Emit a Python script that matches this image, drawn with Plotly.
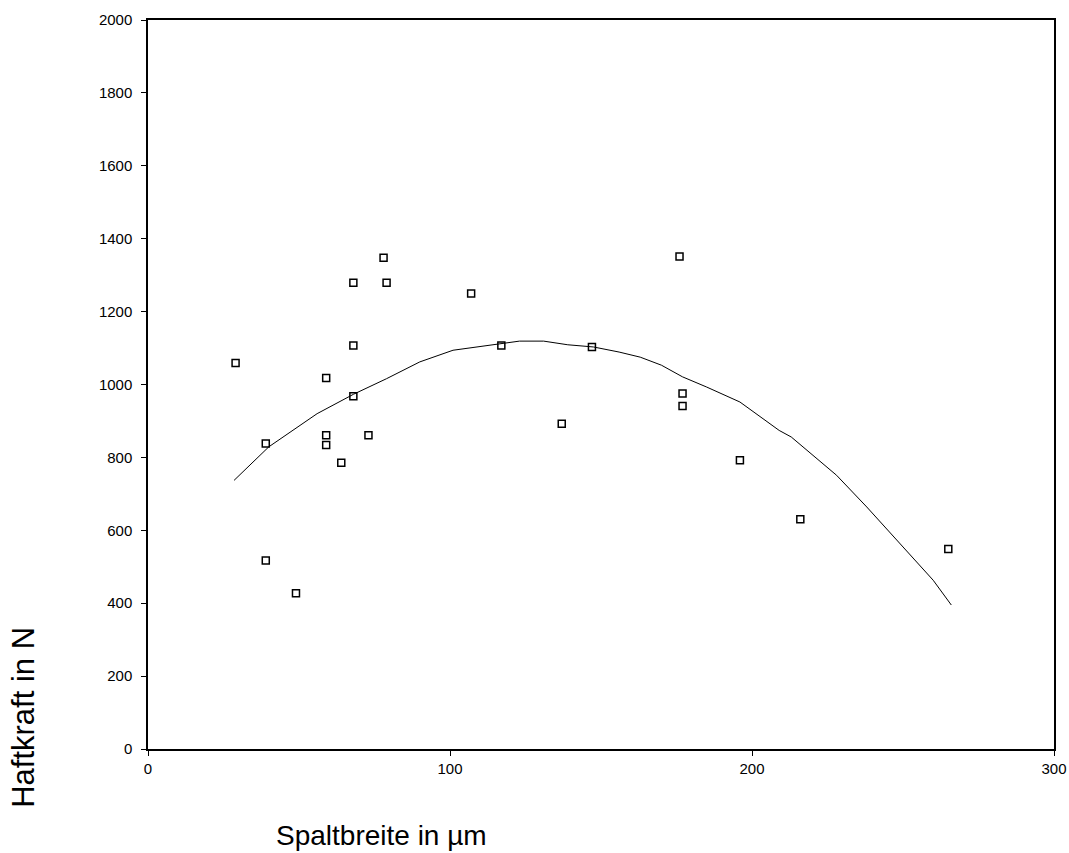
import plotly.graph_objects as go

# Measured data points (Spaltbreite in µm, Haftkraft in N)
spalt = [29, 39, 39, 49, 59, 59, 59, 64, 68, 68, 68, 73, 78, 79,
         107, 117, 137, 147, 176, 177, 177, 196, 216, 265]
haft = [1059, 838, 517, 427, 1018, 861, 834, 785, 1107, 968, 1279, 861, 1348, 1279,
        1250, 1107, 892, 1103, 1351, 975, 941, 792, 630, 549]

# Trend curve
curve_x = [28.5, 40, 56, 68, 79, 90, 101, 112, 123, 131, 139, 147.5, 156, 163,
           170, 177, 185, 196, 209, 213, 228, 238, 249, 260, 266]
curve_y = [737, 829, 920, 973, 1016, 1062, 1094, 1107, 1119, 1119, 1109, 1103, 1089, 1075,
           1053, 1021, 993, 952, 874, 856, 751, 664, 564, 463, 395]

x_ticks = [0, 100, 200, 300]
y_ticks = list(range(0, 2001, 200))

fig = go.Figure()
fig.add_trace(go.Scatter(x=curve_x, y=curve_y, mode="lines",
                         line=dict(color="black", width=1), showlegend=False))
fig.add_trace(go.Scatter(x=spalt, y=haft, mode="markers",
                         marker=dict(symbol="square-open", size=7, color="black",
                                     line=dict(width=1.5, color="black")),
                         showlegend=False))

axis_common = dict(showline=True, linecolor="black", linewidth=1.5, mirror=True,
                   ticks="outside", ticklen=5, tickcolor="black", showgrid=False,
                   zeroline=False, automargin=False,
                   tickfont=dict(family="Liberation Sans, Arial", size=15, color="black"))

fig.update_xaxes(range=[0, 300], tickvals=x_ticks, ticklabeloverflow="allow", **axis_common)
fig.update_yaxes(range=[0, 2000], tickvals=y_ticks, ticklabelstandoff=6, **axis_common)

fig.update_layout(
    width=1069, height=853,
    margin=dict(l=148, r=15, t=20, b=104, autoexpand=False),
    paper_bgcolor="white", plot_bgcolor="white",
    font=dict(family="Liberation Sans, Arial", color="black"),
    annotations=[
        dict(text="Haftkraft in N", xref="paper", yref="paper", x=-0.137, y=0.044,
             textangle=-90, showarrow=False, font=dict(size=31, color="black"),
             xanchor="center", yanchor="middle"),
        dict(text="Spaltbreite in µm", xref="paper", yref="paper", x=0.258, y=-0.119,
             showarrow=False, font=dict(size=28, color="black"),
             xanchor="center", yanchor="middle"),
    ],
)

fig.write_html("out.html",
               config={"displayModeBar": False},
               post_script="document.body.style.margin='0';document.body.style.overflow='hidden';")
